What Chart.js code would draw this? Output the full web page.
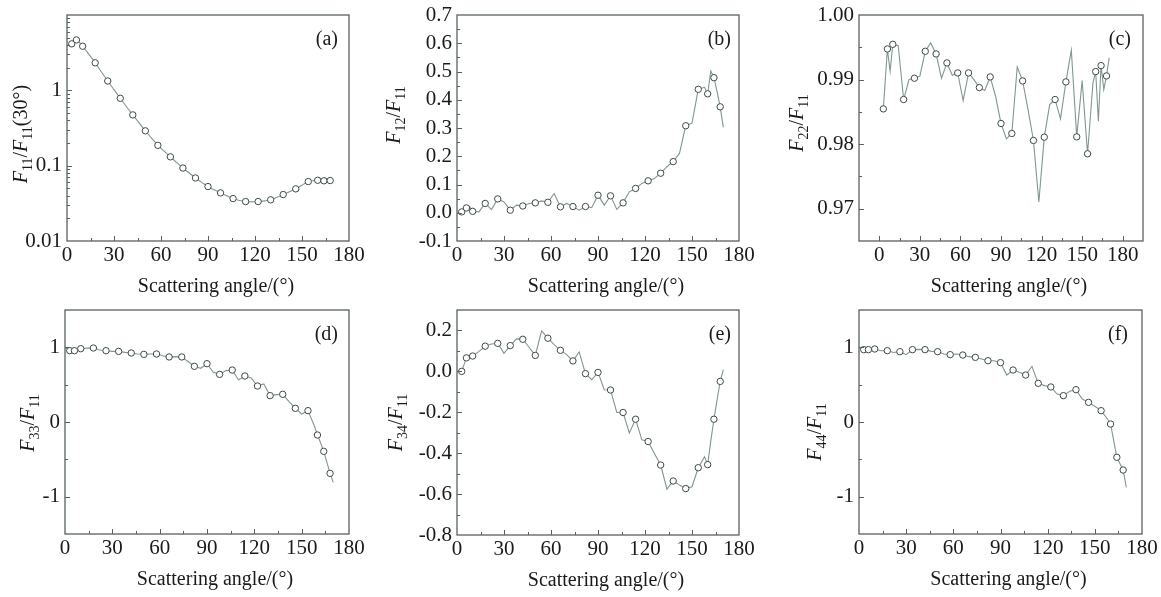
<!DOCTYPE html>
<html>
<head>
<meta charset="utf-8">
<script src="https://cdn.jsdelivr.net/npm/chart.js@4.4.1/dist/chart.umd.min.js"></script>
<style>
  body { margin: 0; background: #fff; }
  #wrap { position: relative; width: 1161px; height: 597px; }
  canvas { position: absolute; }
</style>
</head>
<body>
<div id="wrap"></div>
<script>
// angles (deg) of the open circles, and of the vertices of the thin line
const markAngles = [3, 6, 10, 18, 26, 34, 42, 50, 58, 66, 74, 82, 90, 98, 106, 114, 122, 130, 138, 146, 154, 160, 164, 168];
const lineAngles = [0, 3, 6, 8, 10, 14, 18, 22, 26, 30, 34, 38, 42, 46, 50, 54, 58, 62, 66, 70, 74, 78, 82, 86, 90,
  94, 98, 102, 106, 110, 114, 118, 122, 126, 130, 134, 138, 142, 146, 150, 154, 158, 160, 162, 164, 166, 168, 170];

// (a) F11/F11(30)
const f11Mark = [4.14, 4.67, 3.85, 2.32, 1.33, 0.784, 0.472, 0.29, 0.186, 0.131, 0.093, 0.0687, 0.0528, 0.0435,
  0.0366, 0.0334, 0.0334, 0.0352, 0.0414, 0.0492, 0.0615, 0.064, 0.063, 0.0635];
const f11Line = [null, 4.14, 4.67, 4.3, 3.85, 3.0, 2.32, 1.75, 1.33, 1.02, 0.784, 0.605, 0.472, 0.37, 0.29, 0.232,
  0.186, 0.156, 0.131, 0.11, 0.093, 0.08, 0.0687, 0.06, 0.0528, 0.0478, 0.0435, 0.0398, 0.0366, 0.0345, 0.0334,
  0.0331, 0.0334, 0.0341, 0.0352, 0.038, 0.0414, 0.045, 0.0492, 0.055, 0.0615, 0.0635, 0.064, 0.0635, 0.063,
  0.063, 0.0635, 0.0635];

// (b) F12/F11
const f12Mark = [0.003, 0.017, 0.005, 0.033, 0.049, 0.009, 0.024, 0.035, 0.037, 0.021, 0.022, 0.022, 0.062, 0.060,
  0.035, 0.086, 0.113, 0.140, 0.181, 0.308, 0.437, 0.421, 0.478, 0.375];
const f12Line = [null, 0.003, 0.017, 0.022, 0.005, 0.003, 0.033, 0.011, 0.049, 0.038, 0.009, 0.027, 0.024, 0.033,
  0.035, 0.042, 0.037, 0.068, 0.021, 0.033, 0.022, 0.009, 0.022, 0.018, 0.062, 0.027, 0.060, 0.012, 0.035, 0.074,
  0.086, 0.104, 0.113, 0.121, 0.140, 0.163, 0.181, 0.21, 0.308, 0.317, 0.437, 0.444, 0.421, 0.502, 0.478, 0.43,
  0.375, 0.302];

// (c) F22/F11
const f22Mark = [0.98546, 0.99474, 0.99546, 0.98691, 0.99021, 0.99438, 0.99397, 0.99258, 0.99103, 0.99103, 0.98876,
  0.99041, 0.9832, 0.98165, 0.98979, 0.98057, 0.98108, 0.98691, 0.98964, 0.98113, 0.97851, 0.99124, 0.99216, 0.99057];
const f22Line = [null, 0.98546, 0.99474, 0.99129, 0.99546, 0.99526, 0.98691, 0.9900, 0.99021, 0.99052, 0.99438,
  0.99567, 0.99397, 0.99021, 0.99258, 0.99067, 0.99103, 0.98675, 0.99103, 0.9900, 0.98876, 0.9883, 0.99041, 0.98742,
  0.9832, 0.98082, 0.98165, 0.99196, 0.98979, 0.98536, 0.98057, 0.97103, 0.98108, 0.98613, 0.98691, 0.98392,
  0.98964, 0.99454, 0.98113, 0.98985, 0.97851, 0.9895, 0.99124, 0.98356, 0.99216, 0.98845, 0.99057, 0.99335];

// (d) F33/F11
const f33Mark = [0.955, 0.955, 0.982, 0.991, 0.955, 0.946, 0.924, 0.906, 0.911, 0.871, 0.871, 0.746, 0.781, 0.638,
  0.696, 0.616, 0.482, 0.353, 0.371, 0.183, 0.152, -0.174, -0.393, -0.688];
const f33Line = [1.0, 0.955, 0.955, 0.968, 0.982, 0.99, 0.991, 0.964, 0.955, 0.946, 0.946, 0.933, 0.924, 0.911,
  0.906, 0.911, 0.911, 0.888, 0.871, 0.875, 0.871, 0.81, 0.746, 0.719, 0.781, 0.665, 0.638, 0.688, 0.696, 0.5625,
  0.616, 0.59, 0.482, 0.509, 0.353, 0.366, 0.371, 0.272, 0.183, 0.107, 0.152, -0.05, -0.174, -0.28, -0.393, -0.54,
  -0.688, -0.808];

// (e) F34/F11
const f34Mark = [0.0, 0.066, 0.075, 0.123, 0.137, 0.126, 0.157, 0.078, 0.162, 0.103, 0.051, -0.011, -0.005, -0.091,
  -0.201, -0.234, -0.343, -0.458, -0.536, -0.573, -0.471, -0.456, -0.234, -0.049];
const f34Line = [null, 0.0, 0.066, 0.07, 0.075, 0.098, 0.123, 0.134, 0.137, 0.088, 0.126, 0.159, 0.157, 0.118,
  0.078, 0.198, 0.162, 0.131, 0.103, 0.082, 0.051, 0.095, -0.011, -0.041, -0.005, -0.090, -0.091, -0.201, -0.201,
  -0.301, -0.234, -0.335, -0.343, -0.401, -0.458, -0.576, -0.536, -0.556, -0.573, -0.564, -0.471, -0.417, -0.456,
  -0.34, -0.234, -0.14, -0.049, 0.008];

// (f) F44/F11
const f44Mark = [0.969, 0.969, 0.978, 0.955, 0.942, 0.969, 0.969, 0.942, 0.902, 0.897, 0.866, 0.821, 0.795, 0.696,
  0.629, 0.518, 0.469, 0.353, 0.433, 0.263, 0.152, -0.027, -0.473, -0.643];
const f44Line = [1.0, 0.969, 0.969, 0.973, 0.978, 0.955, 0.955, 0.93, 0.942, 0.902, 0.969, 0.973, 0.969, 0.946,
  0.942, 0.911, 0.902, 0.911, 0.897, 0.875, 0.866, 0.844, 0.821, 0.821, 0.795, 0.629, 0.696, 0.665, 0.629, 0.746,
  0.518, 0.487, 0.469, 0.375, 0.353, 0.411, 0.433, 0.308, 0.263, 0.21, 0.152, 0.04, -0.027, -0.25, -0.473, -0.56,
  -0.643, -0.875];

// tick values and labels
const xTicks = [0, 30, 60, 90, 120, 150, 180];
const aTicks = [0.01, 0.1, 1];
const aLabels = ['0.01', '0.1', '1'];
const bTicks = [-0.1, 0.0, 0.1, 0.2, 0.3, 0.4, 0.5, 0.6, 0.7];
const cTicks = [0.97, 0.98, 0.99, 1.00];
const dTicks = [-1, 0, 1];
const eTicks = [-0.8, -0.6, -0.4, -0.2, 0.0, 0.2];
const fTicks = [-1, 0, 1];

const SERIF = '"Liberation Serif", "Times New Roman", serif';
const FRAME = '#56625e';
const LINE = '#7f978f';
const MARK = '#3e4a46';
const TEXT = '#1a1a1a';

function mids(v) {
  const out = [];
  for (let i = 0; i < v.length - 1; i++) out.push((v[i] + v[i + 1]) / 2);
  return out;
}
function logMinor(decades) {
  const out = [];
  decades.forEach(d => { for (let k = 2; k <= 9; k++) out.push(k * d); });
  return out;
}

// draws the box, inward ticks and all the titles
const framePlugin = {
  id: 'frame',
  afterDraw(chart) {
    const p = chart.options.plugins.frame;
    const ctx = chart.ctx, a = chart.chartArea;
    const xs = chart.scales.x, ys = chart.scales.y;
    ctx.save();
    ctx.strokeStyle = FRAME;
    ctx.lineWidth = 1.3;
    ctx.strokeRect(a.left, a.top, a.right - a.left, a.bottom - a.top);
    ctx.lineWidth = 1;
    ctx.beginPath();
    const xt = (v, len) => {
      const px = Math.round(xs.getPixelForValue(v)) + 0.5;
      if (px < a.left + 1 || px > a.right - 1) return;
      ctx.moveTo(px, a.bottom); ctx.lineTo(px, a.bottom - len);
    };
    const yt = (v, len) => {
      const py = Math.round(ys.getPixelForValue(v)) + 0.5;
      if (py < a.top + 1 || py > a.bottom - 1) return;
      ctx.moveTo(a.left, py); ctx.lineTo(a.left + len, py);
    };
    xTicks.forEach(v => xt(v, 5));
    mids(xTicks).forEach(v => xt(v, 3));
    p.yMajor.forEach(v => yt(v, 5));
    p.yMinor.forEach(v => yt(v, 3));
    ctx.stroke();

    // x title
    ctx.fillStyle = TEXT;
    ctx.font = '20px ' + SERIF;
    ctx.textAlign = 'center';
    ctx.textBaseline = 'middle';
    ctx.fillText('Scattering angle/(°)', (a.left + a.right) / 2 + 8, a.bottom + 46);

    // panel label
    ctx.textAlign = 'right';
    ctx.fillText(p.label, a.right + p.labelDx, a.top + 25);

    // y title, rotated, with italic F and subscripts
    ctx.translate(a.left + p.titleDx, (a.top + a.bottom) / 2 + p.titleDy);
    ctx.rotate(-Math.PI / 2);
    ctx.textAlign = 'left';
    ctx.textBaseline = 'alphabetic';
    const fontOf = r => r.sub ? '14px ' + SERIF : (r.it ? 'italic 20px ' : '20px ') + SERIF;
    let w = 0;
    p.title.forEach(r => { ctx.font = fontOf(r); r.w = ctx.measureText(r.t).width; w += r.w; });
    let x = -w / 2;
    p.title.forEach(r => {
      ctx.font = fontOf(r);
      ctx.fillText(r.t, x, r.sub ? 11 : 6);
      x += r.w;
    });
    ctx.restore();
  }
};

function fTitle(a, b, extra) {
  const runs = [{ t: 'F', it: true }, { t: a, sub: true }, { t: '/' }, { t: 'F', it: true }, { t: b, sub: true }];
  if (extra) runs.push({ t: extra });
  return runs;
}

function makePanel(cfg) {
  const [cl, ct, cr, cb] = cfg.cell;
  const [pl, pt, pr, pb] = cfg.plot;
  const canvas = document.createElement('canvas');
  canvas.width = cr - cl;
  canvas.height = cb - ct;
  canvas.style.left = cl + 'px';
  canvas.style.top = ct + 'px';
  document.getElementById('wrap').appendChild(canvas);

  const tickFont = { family: SERIF, size: 21 };
  const marks = markAngles.map((ang, i) => ({ x: ang, y: cfg.mark[i] }));
  const line = lineAngles.map((ang, i) => ({ x: ang, y: cfg.line[i] })).filter(pt => pt.y !== null);

  new Chart(canvas, {
    type: 'scatter',
    data: {
      datasets: [
        {
          data: marks,
          showLine: false,
          pointStyle: 'circle',
          pointRadius: 3.2,
          pointBorderWidth: 1,
          pointBorderColor: MARK,
          pointBackgroundColor: '#ffffff'
        },
        {
          data: line,
          showLine: true,
          borderColor: LINE,
          borderWidth: 1.1,
          pointRadius: 0,
          tension: cfg.smooth ? 0.4 : 0,
          cubicInterpolationMode: cfg.smooth ? 'monotone' : 'default'
        }
      ]
    },
    options: {
      responsive: false,
      animation: false,
      devicePixelRatio: 1,
      layout: { padding: { left: 0, bottom: 0, top: pt - ct, right: cr - pr } },
      plugins: {
        legend: { display: false },
        tooltip: { enabled: false },
        frame: {
          label: cfg.label, labelDx: cfg.labelDx,
          title: cfg.title, titleDx: cfg.titleDx, titleDy: cfg.titleDy,
          yMajor: cfg.yTicks, yMinor: cfg.yMinor
        }
      },
      scales: {
        x: {
          type: 'linear',
          min: cfg.xMin, max: cfg.xMax,
          grid: { display: false, drawTicks: false, tickLength: 0 },
          border: { display: false },
          afterBuildTicks: s => { s.ticks = xTicks.map(v => ({ value: v })); },
          ticks: { font: tickFont, color: TEXT, padding: 2, maxRotation: 0, autoSkip: false,
                   callback: v => String(v) },
          afterFit: s => { s.height = cb - pb; s.paddingLeft = 0; s.paddingRight = 0; }
        },
        y: {
          type: cfg.log ? 'logarithmic' : 'linear',
          min: cfg.yMin, max: cfg.yMax,
          grid: { display: false, drawTicks: false, tickLength: 0 },
          border: { display: false },
          afterBuildTicks: s => { s.ticks = cfg.yTicks.map(v => ({ value: v })); },
          ticks: { font: tickFont, color: TEXT, padding: 5, autoSkip: false,
                   callback: (v, i) => cfg.yLabels[i] },
          afterFit: s => { s.width = pl - cl; s.paddingTop = 0; s.paddingBottom = 0; }
        }
      }
    },
    plugins: [framePlugin]
  });
}

makePanel({
  cell: [0, 0, 385, 297], plot: [67, 15, 349, 241],
  xMin: 0, xMax: 180, log: true, yMin: 0.01, yMax: 10, smooth: true,
  yTicks: aTicks, yLabels: aLabels, yMinor: logMinor([0.01, 0.1, 1]),
  mark: f11Mark, line: f11Line,
  label: '(a)', labelDx: -11, title: fTitle('11', '11', '(30°)'), titleDx: -46, titleDy: 6
});
makePanel({
  cell: [385, 0, 775, 297], plot: [457, 15, 739, 241],
  xMin: 0, xMax: 180, yMin: -0.1, yMax: 0.7,
  yTicks: bTicks, yLabels: bTicks.map(v => v.toFixed(1)), yMinor: mids(bTicks),
  mark: f12Mark, line: f12Line,
  label: '(b)', labelDx: -8, title: fTitle('12', '11'), titleDx: -63, titleDy: -13
});
makePanel({
  cell: [775, 0, 1161, 297], plot: [859, 15, 1143, 241],
  xMin: -15, xMax: 195, yMin: 0.965, yMax: 1.0,
  yTicks: cTicks, yLabels: cTicks.map(v => v.toFixed(2)), yMinor: mids(cTicks),
  mark: f22Mark, line: f22Line,
  label: '(c)', labelDx: -12, title: fTitle('22', '11'), titleDx: -62, titleDy: -5
});
makePanel({
  cell: [0, 297, 385, 597], plot: [65, 310, 349, 534],
  xMin: 0, xMax: 180, yMin: -1.5, yMax: 1.5,
  yTicks: dTicks, yLabels: dTicks.map(String), yMinor: mids(dTicks),
  mark: f33Mark, line: f33Line,
  label: '(d)', labelDx: -11, title: fTitle('33', '11'), titleDx: -37, titleDy: 1
});
makePanel({
  cell: [385, 297, 775, 597], plot: [457, 310, 739, 535],
  xMin: 0, xMax: 180, yMin: -0.8, yMax: 0.3,
  yTicks: eTicks, yLabels: eTicks.map(v => v.toFixed(1)), yMinor: mids(eTicks),
  mark: f34Mark, line: f34Line,
  label: '(e)', labelDx: -8, title: fTitle('34', '11'), titleDx: -61, titleDy: 0
});
makePanel({
  cell: [775, 297, 1161, 597], plot: [859, 310, 1142, 534],
  xMin: 0, xMax: 180, yMin: -1.5, yMax: 1.5,
  yTicks: fTicks, yLabels: fTicks.map(String), yMinor: mids(fTicks),
  mark: f44Mark, line: f44Line,
  label: '(f)', labelDx: -14, title: fTitle('44', '11'), titleDx: -44, titleDy: 10
});
</script>
</body>
</html>
